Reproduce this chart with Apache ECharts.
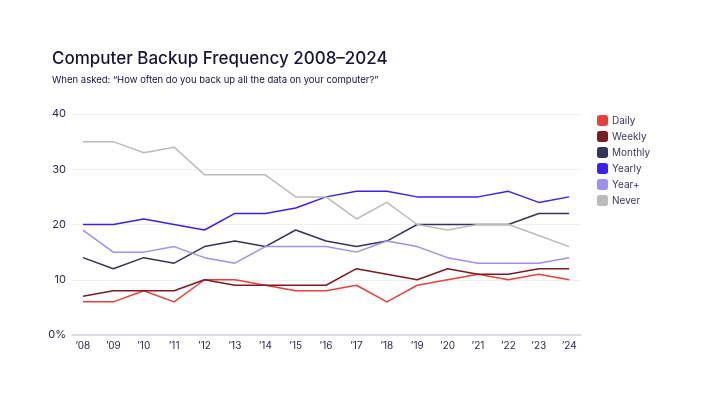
<!DOCTYPE html>
<html><head><meta charset="utf-8">
<script src="https://cdn.jsdelivr.net/npm/echarts@6/dist/echarts.min.js"></script>
<style>html,body{margin:0;padding:0;background:#fff}#c{width:702px;height:400px}</style>
</head><body><div id="c"></div>
<script>
const years = [2008,2009,2010,2011,2012,2013,2014,2015,2016,2017,2018,2019,2020,2021,2022,2023,2024];
const daily   = [6,6,8,6,10,10,9,8,8,9,6,9,10,11,10,11,10];
const weekly  = [7,8,8,8,10,9,9,9,9,12,11,10,12,11,11,12,12];
const monthly = [14,12,14,13,16,17,16,19,17,16,17,20,20,20,20,22,22];
const yearly  = [20,20,21,20,19,22,22,23,25,26,26,25,25,25,26,24,25];
const yearPlus= [19,15,15,16,14,13,16,16,16,15,17,16,14,13,13,13,14];
const never   = [35,35,33,34,29,29,29,25,25,21,24,20,19,20,20,18,16];
const yTicks = [0,10,20,30,40];

const names = ['Daily','Weekly','Monthly','Yearly','Year+','Never'];
const values = [daily,weekly,monthly,yearly,yearPlus,never];
const colors = ['#e8403a','#7b1b24','#33345a','#3b1ff5','#9e8ff0','#bdbaba'];

const chart = echarts.init(document.getElementById('c'));
chart.setOption({
  animation:false,
  title:[
    {text:'Computer Backup Frequency 2008–2024',left:52,top:50,padding:0,
     textStyle:{fontFamily:'Inter',fontSize:17,fontWeight:500,color:'#15153a'}},
    {text:'When asked: “How often do you back up all the data on your computer?”',left:52,top:75,padding:0,
     textStyle:{fontFamily:'Inter',fontSize:9.5,fontWeight:400,color:'#15153a'}}
  ],
  legend:{orient:'vertical',left:597,top:115,padding:0,itemWidth:11,itemHeight:11,itemGap:5,
    icon:'roundRect',
    textStyle:{fontFamily:'Inter',fontSize:10,color:'#3a3a5c',padding:[0,0,0,-1]},
    data:names},
  grid:{left:72,right:121,top:114,bottom:65},
  xAxis:{type:'value',min:2007.64,max:2024.39,
    axisLine:{show:true,lineStyle:{color:'#d3d3de',width:1.5}},
    axisTick:{show:false},
    splitLine:{show:false},
    axisLabel:{customValues:years,formatter:v=>'\u2019'+String(v).slice(2),
      fontFamily:'Inter',fontSize:10,color:'#2a2a4a',margin:6}},
  yAxis:{type:'value',min:0,max:40,interval:10,
    axisLine:{show:false},axisTick:{show:false},
    splitLine:{lineStyle:{color:'#efefef',width:1}},
    axisLabel:{customValues:yTicks,formatter:v=>v===0?'0%':String(v),
      fontFamily:'Inter',fontSize:11,color:'#2a2a4a',margin:6}},
  series:names.map((n,i)=>({
    name:n,type:'line',showSymbol:false,symbol:'none',
    data:years.map((y,j)=>[y,values[i][j]]),
    lineStyle:{width:1.5,color:colors[i]},itemStyle:{color:colors[i]}
  }))
});
</script></body></html>
